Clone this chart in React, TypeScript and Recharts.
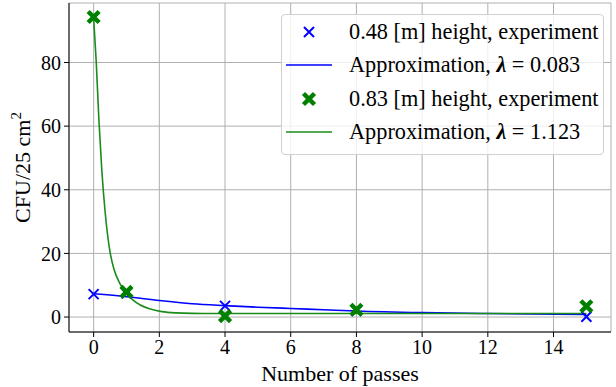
import React from 'react';
import {
  ComposedChart, Line, Scatter, XAxis, YAxis, CartesianGrid, Legend,
} from 'recharts';

// ---- data ----
const xTicks = [0, 2, 4, 6, 8, 10, 12, 14];
const yTicks = [0, 20, 40, 60, 80];

const passes = [0, 1, 4, 8, 15];
const lowExperiment = [7.2, 7.5, 3.5, 2.0, 0.1];
const highExperiment = [94.3, 7.9, 0.3, 2.3, 3.4];

const lowFitX = [0, 1, 2, 3, 4, 5, 6, 7, 8, 10, 12, 15];
const lowFitY = [7.3, 6.4, 5.2, 4.2, 3.6, 3.1, 2.7, 2.3, 1.9, 1.4, 1.1, 0.8];

const highFitX = [0, 0.08, 0.16, 0.25, 0.35, 0.49, 0.62, 0.8, 1.0, 1.2, 1.42, 1.7, 2.08, 2.5, 3, 4, 8, 15];
const highFitY = [94, 80, 62, 46, 33, 21, 15, 10.5, 7.5, 5.3, 3.8, 2.6, 1.7, 1.3, 1.15, 1.1, 1.1, 1.1];

const legendLabels = [
  '0.48 [m] height, experiment',
  'Approximation, ',
  '0.83 [m] height, experiment',
  'Approximation, ',
];
const lambdaValues = ['', '0.083', '', '1.123'];

const BLUE = '#0000ff';
const GREEN = '#008000';
const GREEN_LINE = '#1a8c1a';
const FONT = '"Liberation Serif", "DejaVu Serif", serif';

const zip = (xs: number[], ys: number[]) => xs.map((x, i) => ({ x, y: ys[i] }));
const lowExpData = zip(passes, lowExperiment);
const highExpData = zip(passes, highExperiment);
const lowFitData = zip(lowFitX, lowFitY);
const highFitData = zip(highFitX, highFitY);

const ThinCross = (p: any) => {
  const { cx, cy } = p;
  if (cx == null || cy == null) return null;
  const r = 5;
  return (
    <path d={`M${cx - r},${cy - r}L${cx + r},${cy + r}M${cx - r},${cy + r}L${cx + r},${cy - r}`}
      stroke={BLUE} strokeWidth={2} fill="none" />
  );
};

const BoldCross = (p: any) => {
  const { cx, cy } = p;
  if (cx == null || cy == null) return null;
  const r = 5.5;
  return (
    <path d={`M${cx - r},${cy - r}L${cx + r},${cy + r}M${cx - r},${cy + r}L${cx + r},${cy - r}`}
      stroke={GREEN} strokeWidth={4.5} fill="none" />
  );
};

const YLabel = (props: any) => {
  const vb = props.viewBox || { x: 0, y: 3, width: 69, height: 330 };
  const cy = vb.y + vb.height / 2;
  const x = 30;
  return (
    <text x={x} y={cy} transform={`rotate(-90, ${x}, ${cy})`} textAnchor="middle"
      fontFamily={FONT} fontSize={22} fill="#000">
      CFU/25 cm<tspan dy={-9} fontSize={15}>2</tspan>
    </text>
  );
};

const LegendBox = () => {
  const handle = (i: number) => {
    if (i === 0) return <ThinCross cx={25} cy={17} />;
    if (i === 2) return <BoldCross cx={25} cy={17} />;
    const c = i === 1 ? BLUE : GREEN_LINE;
    return <line x1={2} x2={48} y1={17} y2={17} stroke={c} strokeWidth={1.5} />;
  };
  return (
    <div style={{
      width: 321, height: 139, border: '1px solid #d0d0d0', borderRadius: 4,
      background: 'rgba(255,255,255,0.8)', fontFamily: FONT, fontSize: 22.3,
      color: '#000', paddingTop: 0, boxSizing: 'content-box',
    }}>
      {legendLabels.map((lab, i) => (
        <div key={i} style={{ display: 'flex', alignItems: 'center', height: 33.5 }}>
          <svg width={52} height={34} style={{ marginLeft: 2, flex: 'none' }}>{handle(i)}</svg>
          <span style={{ marginLeft: 13, whiteSpace: 'nowrap', lineHeight: '34px' }}>
            {lab}
            {lambdaValues[i] !== '' && (
              <>
                <b style={{ fontStyle: 'italic' }}>λ</b> = {lambdaValues[i]}
              </>
            )}
          </span>
        </div>
      ))}
    </div>
  );
};

export default function App() {
  const tickStyle = { fontFamily: FONT, fontSize: 20, fill: '#000' };
  return (
    <div style={{ position: 'absolute', left: 0, top: 0, background: '#fff' }}>
      <ComposedChart width={616} height={387} margin={{ top: 3, right: 5, bottom: 0, left: 0 }}>
        <CartesianGrid stroke="#b0b0b0" strokeWidth={1} />
        <XAxis dataKey="x" type="number" domain={[-0.75, 15.75]} ticks={xTicks} allowDataOverflow
          height={55} tick={tickStyle} tickSize={5} tickMargin={3}
          axisLine={{ stroke: '#000', strokeWidth: 1 }} tickLine={{ stroke: '#000' }}
          label={{ value: 'Number of passes', position: 'insideBottom', offset: 6,
            style: { fontFamily: FONT, fontSize: 22, fill: '#000' } }} />
        <XAxis xAxisId="top" orientation="top" type="number" domain={[-0.75, 15.75]} height={0}
          tick={false} tickLine={false} axisLine={{ stroke: '#000', strokeWidth: 1 }} />
        <YAxis type="number" domain={[-4.7, 98.7]} ticks={yTicks} allowDataOverflow width={69}
          tick={tickStyle} tickSize={5} tickMargin={3}
          axisLine={{ stroke: '#000', strokeWidth: 1 }} tickLine={{ stroke: '#000' }}
          label={<YLabel />} />
        <YAxis yAxisId="right" orientation="right" type="number" domain={[-4.7, 98.7]} width={0}
          tick={false} tickLine={false} axisLine={{ stroke: '#000', strokeWidth: 1 }} />
        <Line data={lowFitData} dataKey="y" type="monotone" stroke={BLUE} strokeWidth={1.6}
          dot={false} isAnimationActive={false} />
        <Line data={highFitData} dataKey="y" type="monotone" stroke={GREEN_LINE} strokeWidth={1.6}
          dot={false} isAnimationActive={false} />
        <Scatter data={lowExpData} dataKey="y" shape={ThinCross} isAnimationActive={false} />
        <Scatter data={highExpData} dataKey="y" shape={BoldCross} isAnimationActive={false} />
        <Legend layout="vertical" align="center" verticalAlign="middle"
          wrapperStyle={{ left: 281, top: 14, width: 323, height: 141 }}
          content={<LegendBox />} />
      </ComposedChart>
    </div>
  );
}
